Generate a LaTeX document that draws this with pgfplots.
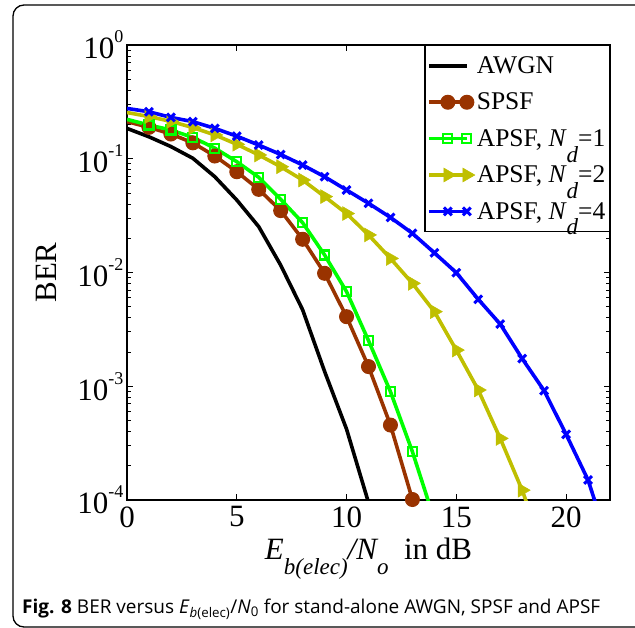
\documentclass[border=0pt]{standalone}
\usepackage{pgfplots}
\pgfplotsset{compat=1.18}
\usepackage{fontspec}
\setmainfont{Liberation Serif}
\newfontfamily\capfont{Open Sans}
\definecolor{mbrown}{RGB}{153,51,0}
\definecolor{mgreen}{RGB}{0,255,0}
\definecolor{myellow}{RGB}{191,191,0}
\definecolor{mblue}{RGB}{0,0,255}
\newcommand\tp[1]{10\raisebox{0.52em}{\fontsize{18pt}{18pt}\selectfont #1}}
\newcommand\lsub[1]{\raisebox{-0.47em}{\fontsize{23pt}{23pt}\selectfont\itshape #1}}
\newcommand\dsub[1]{\raisebox{-0.62em}{\fontsize{23pt}{23pt}\selectfont\itshape #1}}
\begin{document}
\begin{tikzpicture}
\useasboundingbox (0,0) rectangle (635pt,-628pt);
\draw[line width=1.3pt, rounded corners=11pt] (13pt,-5pt) rectangle (646pt,-627pt);
\begin{axis}[
  at={(127pt,-500pt)}, anchor=south west,
  scale only axis, width=483pt, height=455pt,
  xmin=0, xmax=22, ymode=log, ymin=1e-4, ymax=1,
  xtick={0,5,10,15,20},
  ytick={1e-4,1e-3,1e-2,1e-1,1},
  yticklabels={\tp{-4},\tp{-3},\tp{-2},\tp{-1},\tp{0}},
  yminorticks=true,
  /pgf/number format/assume math mode=true,
  tick label style={font=\fontsize{31pt}{31pt}\selectfont},
  xticklabel style={yshift=-3pt},
  major tick length=6pt, minor tick length=4pt,
  tick style={black, line width=1pt},
  axis line style={line width=1.3pt},
  xlabel={\itshape E\lsub{b(elec)}/N\lsub{o}\upshape\ \ in dB},
  ylabel={BER},
  label style={font=\fontsize{31pt}{31pt}\selectfont},
  ylabel style={yshift=14pt},
  xlabel style={yshift=-4pt},
  legend style={at={(1,1)}, anchor=north east, draw=black, line width=1.3pt,
    font=\fontsize{25.5pt}{26pt}\selectfont, row sep=14pt, inner xsep=2pt, inner ysep=9pt,
    nodes={inner sep=2pt}},
  legend cell align=left,
  legend image code/.code={\draw[mark repeat=2,mark phase=2] plot coordinates {(0pt,0pt)(19pt,0pt)(38pt,0pt)};},
  every axis plot/.append style={line width=3.6pt},
]
\addplot[black, no markers] coordinates {
(0,0.185)(1,0.156)(2,0.128)(3,0.101)(4,0.0695)(5,0.0434)(6,0.0253)(7,0.0116)(8,0.0047)(9,0.00135)(10,0.00042)(11,0.000095)};
\addlegendentry{AWGN}
\addplot[mbrown, mark=*, mark size=7pt, mark options={line width=1pt, fill=mbrown}, mark indices={2,3,4,5,6,7,8,9,10,11,12,13,14}] coordinates {
(0,0.212)(1,0.189)(2,0.165)(3,0.138)(4,0.1057)(5,0.0769)(6,0.0538)(7,0.035)(8,0.0196)(9,0.00984)(10,0.00409)(11,0.00149)(12,0.000456)(13,0.000101)};
\addlegendentry{SPSF}
\addplot[mgreen, mark=square, mark size=4.5pt, mark options={line width=2.2pt}, mark indices={2,3,4,5,6,7,8,9,10,11,12,13,14}] coordinates {
(0,0.222)(1,0.198)(2,0.179)(3,0.154)(4,0.124)(5,0.0942)(6,0.0687)(7,0.044)(8,0.0274)(9,0.01426)(10,0.00679)(11,0.00252)(12,0.000896)(13,0.000266)(14,0.000067)};
\addlegendentry{APSF, \textit{N}\dsub{d}=1}
\addplot[myellow, mark=triangle*, mark size=8pt, mark options={rotate=-90, line width=0.5pt, fill=myellow}, mark indices={2,3,4,5,6,7,8,9,10,11,12,13,14,15,16,17,18,19}] coordinates {
(0,0.255)(1,0.235)(2,0.213)(3,0.188)(4,0.162)(5,0.134)(6,0.108)(7,0.0851)(8,0.065)(9,0.0465)(10,0.033)(11,0.0214)(12,0.0133)(13,0.00803)(14,0.00453)(15,0.00208)(16,0.000927)(17,0.000348)(18,0.000122)(19,0.000035)};
\addlegendentry{APSF, \textit{N}\dsub{d}=2}
\addplot[mblue, mark=x, mark size=5.5pt, mark options={line width=3pt}, mark indices={2,3,4,5,6,7,8,9,10,11,12,13,14,15,16,17,18,19,20,21,22}] coordinates {
(0,0.277)(1,0.259)(2,0.231)(3,0.212)(4,0.185)(5,0.158)(6,0.132)(7,0.109)(8,0.0881)(9,0.0695)(10,0.0531)(11,0.0406)(12,0.0305)(13,0.0221)(14,0.0149)(15,0.00996)(16,0.00581)(17,0.00352)(18,0.00175)(19,0.000914)(20,0.000378)(21,0.00015)(22,0.000038)};
\addlegendentry{APSF, \textit{N}\dsub{d}=4}
\end{axis}
\node[anchor=base west, inner sep=0pt, font=\capfont\fontsize{19pt}{19pt}\selectfont] at (22pt,-613pt)
 {\textbf{Fig. 8} BER versus \textit{E}\textsubscript{\textit{b}(elec)}/\textit{N}\textsubscript{0} for stand-alone AWGN, SPSF and APSF};
\end{tikzpicture}
\end{document}
